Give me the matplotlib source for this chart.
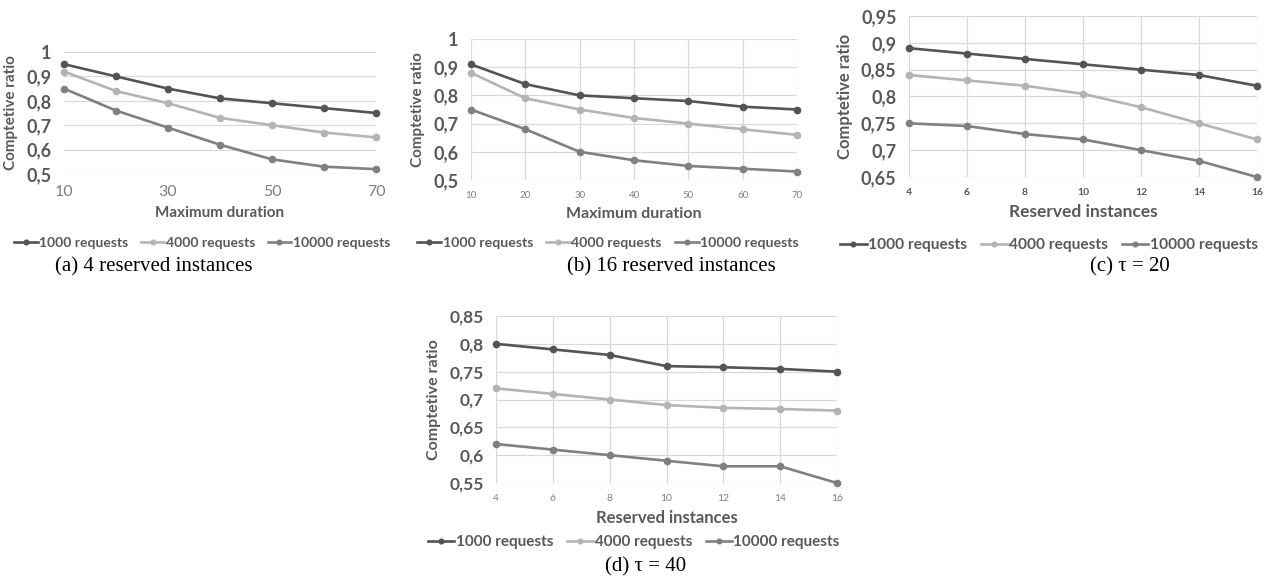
import matplotlib

matplotlib.use("Agg")
import matplotlib.pyplot as plt

# Competitive ratio vs. maximum duration / reserved instances
durations = [10, 20, 30, 40, 50, 60, 70]
reserved = [4, 6, 8, 10, 12, 14, 16]
series_names = ["1000 requests", "4000 requests", "10000 requests"]

a_1000 = [0.95, 0.90, 0.85, 0.81, 0.79, 0.77, 0.75]
a_4000 = [0.92, 0.84, 0.79, 0.73, 0.70, 0.67, 0.65]
a_10000 = [0.85, 0.76, 0.69, 0.62, 0.56, 0.53, 0.52]

b_1000 = [0.91, 0.84, 0.80, 0.79, 0.78, 0.76, 0.75]
b_4000 = [0.88, 0.79, 0.75, 0.72, 0.70, 0.68, 0.66]
b_10000 = [0.75, 0.68, 0.60, 0.57, 0.55, 0.54, 0.53]

c_1000 = [0.89, 0.88, 0.87, 0.86, 0.85, 0.84, 0.82]
c_4000 = [0.84, 0.83, 0.82, 0.805, 0.78, 0.75, 0.72]
c_10000 = [0.75, 0.745, 0.73, 0.72, 0.70, 0.68, 0.65]

d_1000 = [0.80, 0.79, 0.78, 0.76, 0.758, 0.755, 0.75]
d_4000 = [0.72, 0.71, 0.70, 0.69, 0.685, 0.683, 0.68]
d_10000 = [0.62, 0.61, 0.60, 0.59, 0.58, 0.58, 0.55]

a_yticks = [0.5, 0.6, 0.7, 0.8, 0.9, 1.0]
c_yticks = [0.65, 0.7, 0.75, 0.8, 0.85, 0.9, 0.95]
d_yticks = [0.55, 0.6, 0.65, 0.7, 0.75, 0.8, 0.85]

COLORS = ["#545454", "#b4b4b4", "#808080"]
TXT = "#595959"
GRID = "#d9d9d9"
FONT = "Lato"

W, H = 1272, 582
fig = plt.figure(figsize=(W / 100, H / 100), dpi=100)


def px_axes(left, right, top, bottom):
    return fig.add_axes([left / W, 1 - bottom / H, (right - left) / W, (bottom - top) / H])


def comma(v):
    s = f"{v:.2f}".rstrip("0").rstrip(".")
    return s.replace(".", ",")


def panel(box, x, ys, yticks, xticks, xlabel, ytick_fs, xtick_fs, xtick_bold,
          xlabel_fs, ylabel_fs, vgrid, leg_cx, leg_y, leg_fs, caption, cap_x, cap_y):
    ax = px_axes(*box)
    for y, c, name in zip(ys, COLORS, series_names):
        ax.plot(x, y, color=c, lw=1.9, marker="o", ms=4.5, label=name,
                zorder=3, clip_on=False)
    ax.set_xlim(x[0], x[-1])
    ax.set_ylim(yticks[0], yticks[-1])
    ax.set_yticks(yticks)
    ax.set_yticklabels([comma(v) for v in yticks], fontsize=ytick_fs,
                       fontweight="bold", color=TXT, family=FONT)
    ax.set_xticks(xticks)
    ax.set_xticklabels([str(v) for v in xticks], fontsize=xtick_fs,
                       fontweight="bold" if xtick_bold else "normal",
                       color=TXT if xtick_bold else "#7f7f7f", family=FONT)
    ax.tick_params(axis="y", length=0, pad=9)
    ax.tick_params(axis="x", length=0, pad=8)
    ax.grid(True, axis="y", color=GRID, lw=0.9, zorder=0)
    if vgrid:
        ax.grid(True, axis="x", color=GRID, lw=0.9, zorder=0)
    for s in ax.spines.values():
        s.set_visible(False)
    ax.set_xlabel(xlabel, fontsize=xlabel_fs, fontweight="bold", color=TXT,
                  family=FONT, labelpad=5)
    ax.set_ylabel("Comptetive ratio", fontsize=ylabel_fs, fontweight="bold",
                  color=TXT, family=FONT, labelpad=6)
    leg = fig.legend(*ax.get_legend_handles_labels(), loc="center",
                     bbox_to_anchor=(leg_cx / W, 1 - leg_y / H), ncol=3,
                     frameon=False, handlelength=1.7, handletextpad=0.1,
                     columnspacing=0.9, borderpad=0, markerscale=0.75,
                     prop={"family": FONT, "weight": "bold", "size": leg_fs})
    for t in leg.get_texts():
        t.set_color(TXT)
    fig.text(cap_x / W, 1 - cap_y / H, caption, ha="center", va="center",
             fontsize=15, family="Liberation Serif")
    return ax


panel((64, 376, 52, 174), durations, [a_1000, a_4000, a_10000], a_yticks,
      [10, 30, 50, 70], "Maximum duration", 13, 11.5, False, 11, 11, False,
      202, 243, 10, "(a) 4 reserved instances", 154, 267)
panel((471, 797, 39, 180), durations, [b_1000, b_4000, b_10000], a_yticks,
      durations, "Maximum duration", 13, 7, False, 11.5, 11, True,
      608, 243, 10.2, "(b) 16 reserved instances", 671, 267)
panel((909, 1257, 16, 177), reserved, [c_1000, c_4000, c_10000], c_yticks,
      reserved, "Reserved instances", 13, 7.5, True, 12.5, 12, True,
      1049, 245, 11.2, "(c) τ = 20", 1130, 267)
panel((496, 837, 316, 483), reserved, [d_1000, d_4000, d_10000], d_yticks,
      reserved, "Reserved instances", 12.5, 7.5, False, 12, 11.5, True,
      634, 542, 11, "(d) τ = 40", 646, 567)

fig.savefig("out.png", dpi=100)
